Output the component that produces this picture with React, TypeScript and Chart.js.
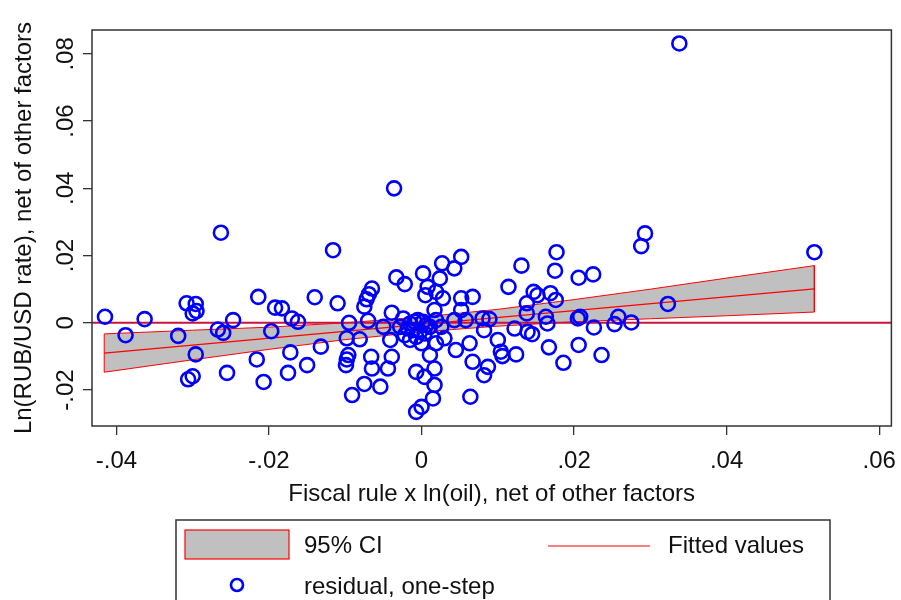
import React, { useEffect, useRef } from "react";
import { Chart, registerables } from "chart.js";

Chart.register(...registerables);

// residual, one-step (x values)
const residualX = [
  -0.0415, -0.0388, -0.0363, -0.0263, -0.0308, -0.0296, -0.03, -0.0295, -0.0319, -0.0296,
  -0.0306, -0.03, -0.0267, -0.026, -0.0247, -0.0255, -0.0214, -0.0197, -0.0216, -0.0207,
  -0.0192, -0.0183, -0.017, -0.0162, -0.0172, -0.0175, -0.015, -0.014, -0.0116, -0.011,
  -0.0132, -0.0095, -0.0098, -0.0081, -0.0096, -0.0098, -0.0099, -0.0091, -0.0075, -0.0054,
  -0.0066, -0.0065, -0.007, -0.0075, -0.0072, -0.0069, -0.0065, -0.005, -0.0039, -0.0041,
  -0.0039, -0.0044, -0.0033, -0.0036, 0.0052, 0.0027, 0.0043, 0.0002, 0.0024, -0.0022,
  0.0008, 0.0005, 0.0019, 0.0028, 0.0052, 0.0067, 0.0052, 0.0017, -0.0024, -0.0015,
  -0.0009, -0.0005, 0.0002, 0.0006, -0.0018, -0.0011, -0.0002, 0.0004, 0.0011, -0.0022,
  -0.0007, -0.0015, 0.0, -0.0028, 0.0019, 0.0026, 0.003, 0.0019, 0.0043, 0.0058,
  0.008, 0.0082, 0.0045, 0.0063, 0.0067, 0.0087, 0.0082, 0.0011, 0.0017, -0.0007,
  0.0004, 0.0017, 0.0015, 0.0, -0.0007, 0.0064, 0.0177, 0.0131, 0.0175, 0.0206,
  0.0225, 0.0114, 0.0147, 0.0152, 0.0169, 0.0176, 0.0138, 0.0138, 0.0163, 0.0165,
  0.0122, 0.0139, 0.0145, 0.0208, 0.0205, 0.0226, 0.0167, 0.0206, 0.0186, 0.0124,
  0.01, 0.0104, 0.0089, 0.0106, 0.0293, 0.0288, 0.0323, 0.0258, 0.0253, 0.0275,
  0.0236, 0.0338, 0.0515,
];

// residual, one-step (y values)
const residualY = [
  0.0018, -0.0037, 0.0011, 0.0268, 0.0058, 0.0056, 0.0028, 0.0035, -0.0039, -0.0094,
  -0.0168, -0.0159, -0.002, -0.003, 0.0008, -0.0149, 0.0077, -0.0025, -0.0109, -0.0176,
  0.0045, 0.0043, 0.0013, 0.0003, -0.0088, -0.0149, -0.0126, 0.0076, 0.0216, 0.0058,
  -0.0071, 0.0, -0.0046, -0.0049, -0.0096, -0.0109, -0.0126, -0.0215, -0.0182, -0.019,
  -0.0101, -0.0136, 0.0006, 0.0048, 0.007, 0.0085, 0.0102, -0.0012, 0.003, -0.0051,
  -0.0101, -0.0136, 0.0135, 0.04, 0.0196, 0.0177, 0.0162, 0.0147, 0.0132, 0.0115,
  0.0107, 0.0082, 0.0092, 0.0073, 0.0073, 0.0077, 0.0038, 0.0038, 0.0013, -0.0002,
  0.0003, 0.0008, 0.0003, -0.0007, -0.0017, -0.0022, -0.0027, -0.0032, -0.0012, -0.0037,
  -0.0042, -0.0051, -0.0061, -0.0012, 0.0008, -0.0012, -0.0046, -0.0061, 0.0008, 0.0008,
  0.0013, -0.0022, -0.0081, -0.0061, -0.0116, -0.0131, -0.0156, -0.0096, -0.0136, -0.0146,
  -0.0161, -0.0185, -0.0225, -0.025, -0.0265, -0.022, 0.021, 0.017, 0.0155, 0.0134,
  0.0144, 0.0107, 0.0092, 0.0082, 0.0088, 0.0068, 0.0058, 0.0028, 0.0018, -0.0002,
  -0.0017, -0.0027, -0.0034, 0.0018, 0.0013, -0.0014, -0.0073, -0.0066, -0.0119, -0.0094,
  -0.0051, -0.0086, 0.0011, -0.0099, 0.0266, 0.0228, 0.0056, 0.0018, -0.0004, 0.0001,
  -0.0096, 0.0831, 0.021,
];

// 95% CI band (read at several x positions)
const ciX = [-0.0416, -0.03, -0.02, -0.01, 0, 0.01, 0.02, 0.03, 0.04, 0.0515];
const ciUpper = [-0.0033, -0.0022, -0.0013, 0.0, 0.0017, 0.004, 0.0069, 0.01, 0.0133, 0.017];
const ciLower = [-0.0147, -0.011, -0.0079, -0.005, -0.0027, -0.001, 0.0003, 0.0012, 0.0021, 0.0032];

// Fitted values
const fitX = [-0.0416, 0.0515];
const fitY = [-0.009, 0.0101];

// Axes
const xTickValues = [-0.04, -0.02, 0, 0.02, 0.04, 0.06];
const xTickLabels = ["-.04", "-.02", "0", ".02", ".04", ".06"];
const yTickValues = [-0.02, 0, 0.02, 0.04, 0.06, 0.08];
const yTickLabels = ["-.02", "0", ".02", ".04", ".06", ".08"];
const xRange = [-0.0432, 0.0616];
const yRange = [-0.0307, 0.0871];
const refLineValue = [0];

const xTitle = "Fiscal rule x ln(oil), net of other factors";
const yTitle = "Ln(RUB/USD rate), net of other factors";
const legendLabels = ["95% CI", "Fitted values", "residual, one-step"];

const FONT = "'Liberation Sans', Arial, sans-serif";
const FS = 24;

const decorPlugin = {
  id: "decor",
  afterDatasetDraw(chart: any, args: any) {
    if (args.index !== 1) return;
    const { ctx, chartArea: a, scales } = chart;
    ctx.save();
    ctx.beginPath();
    ctx.rect(a.left, a.top, a.right - a.left, a.bottom - a.top);
    ctx.clip();
    ctx.strokeStyle = "#c8143c";
    ctx.lineWidth = 2;
    refLineValue.forEach((v) => {
      const y = scales.y.getPixelForValue(v);
      ctx.beginPath();
      ctx.moveTo(a.left, y);
      ctx.lineTo(a.right, y);
      ctx.stroke();
    });
    ctx.restore();
  },
  afterDraw(chart: any) {
    const { ctx, chartArea: a, scales } = chart;
    ctx.save();
    // plot region border
    ctx.strokeStyle = "#333";
    ctx.lineWidth = 1.5;
    ctx.strokeRect(a.left, a.top, a.right - a.left, a.bottom - a.top);

    ctx.fillStyle = "#111";
    ctx.font = `${FS}px ${FONT}`;
    // x tick labels
    ctx.textAlign = "center";
    ctx.textBaseline = "middle";
    xTickValues.forEach((v, i) => {
      ctx.fillText(xTickLabels[i], scales.x.getPixelForValue(v), 461);
    });
    // y tick labels (rotated)
    yTickValues.forEach((v, i) => {
      const y = scales.y.getPixelForValue(v);
      ctx.save();
      ctx.translate(66, y);
      ctx.rotate(-Math.PI / 2);
      ctx.fillText(yTickLabels[i], 0, 0);
      ctx.restore();
    });
    // axis titles
    ctx.fillText(xTitle, (a.left + a.right) / 2, 494);
    ctx.save();
    ctx.translate(24, (a.top + a.bottom) / 2);
    ctx.rotate(-Math.PI / 2);
    ctx.fillText(yTitle, 0, 0);
    ctx.restore();

    // legend
    ctx.strokeStyle = "#333";
    ctx.lineWidth = 1.5;
    ctx.strokeRect(176, 520, 654, 100);
    ctx.fillStyle = "#c0c0c0";
    ctx.fillRect(185, 530, 104, 29);
    ctx.strokeStyle = "#ff0000";
    ctx.lineWidth = 1.2;
    ctx.strokeRect(185, 530, 104, 29);
    ctx.beginPath();
    ctx.moveTo(548, 546);
    ctx.lineTo(650, 546);
    ctx.stroke();
    ctx.strokeStyle = "#0000ff";
    ctx.lineWidth = 2.6;
    ctx.beginPath();
    ctx.arc(237, 585, 6, 0, Math.PI * 2);
    ctx.stroke();
    ctx.fillStyle = "#111";
    ctx.textAlign = "left";
    ctx.fillText(legendLabels[0], 304, 546);
    ctx.fillText(legendLabels[1], 668, 546);
    ctx.fillText(legendLabels[2], 304, 587);
    ctx.restore();
  },
};

export default function App() {
  const ref = useRef<HTMLCanvasElement | null>(null);
  useEffect(() => {
    if (!ref.current) return;
    const band = [
      ...ciX.map((x, i) => ({ x, y: ciUpper[i] })),
      ...ciX.map((x, i) => ({ x, y: ciLower[i] })).reverse(),
      { x: ciX[0], y: ciUpper[0] },
    ];
    const fit = fitX.map((x, i) => ({ x, y: fitY[i] }));
    const pts = residualX.map((x, i) => ({ x, y: residualY[i] }));
    const chart = new Chart(ref.current, {
      type: "scatter",
      data: {
        datasets: [
          {
            label: legendLabels[0],
            data: band,
            showLine: true,
            fill: "shape",
            backgroundColor: "#c0c0c0",
            borderColor: "#ff0000",
            borderWidth: 1,
            pointRadius: 0,
            tension: 0,
            order: 3,
          } as any,
          {
            label: legendLabels[1],
            data: fit,
            showLine: true,
            fill: false,
            borderColor: "#ff0000",
            borderWidth: 1.2,
            pointRadius: 0,
            order: 2,
          },
          {
            label: legendLabels[2],
            data: pts,
            showLine: false,
            pointStyle: "circle",
            pointRadius: 7,
            pointBorderWidth: 2.6,
            borderColor: "#0000ff",
            pointBorderColor: "#0000ff",
            backgroundColor: "rgba(0,0,0,0)",
            pointBackgroundColor: "rgba(0,0,0,0)",
            order: 1,
          },
        ],
      },
      options: {
        animation: false,
        responsive: false,
        layout: { padding: { top: 30, left: 0, right: 5, bottom: 99 } },
        plugins: { legend: { display: false }, tooltip: { enabled: false } },
        scales: {
          x: {
            type: "linear",
            position: "bottom",
            min: xRange[0],
            max: xRange[1],
            afterBuildTicks: (s: any) => {
              s.ticks = xTickValues.map((v) => ({ value: v }));
            },
            afterFit: (s: any) => {
              s.height = 75;
            },
            ticks: { display: false },
            border: { display: false },
            grid: { display: true, drawOnChartArea: false, drawTicks: true, tickLength: 9, color: "#333", lineWidth: 1.3 },
          },
          y: {
            type: "linear",
            position: "left",
            min: yRange[0],
            max: yRange[1],
            afterBuildTicks: (s: any) => {
              s.ticks = yTickValues.map((v) => ({ value: v }));
            },
            afterFit: (s: any) => {
              s.width = 92;
            },
            ticks: { display: false },
            border: { display: false },
            grid: { display: true, drawOnChartArea: false, drawTicks: true, tickLength: 9, color: "#333", lineWidth: 1.3 },
          },
        },
      },
      plugins: [decorPlugin],
    });
    return () => chart.destroy();
  }, []);
  return (
    <div style={{ position: "fixed", left: 0, top: 0, width: 901, height: 600, background: "#fff" }}>
      <canvas ref={ref} width={901} height={600} style={{ display: "block" }} />
    </div>
  );
}
